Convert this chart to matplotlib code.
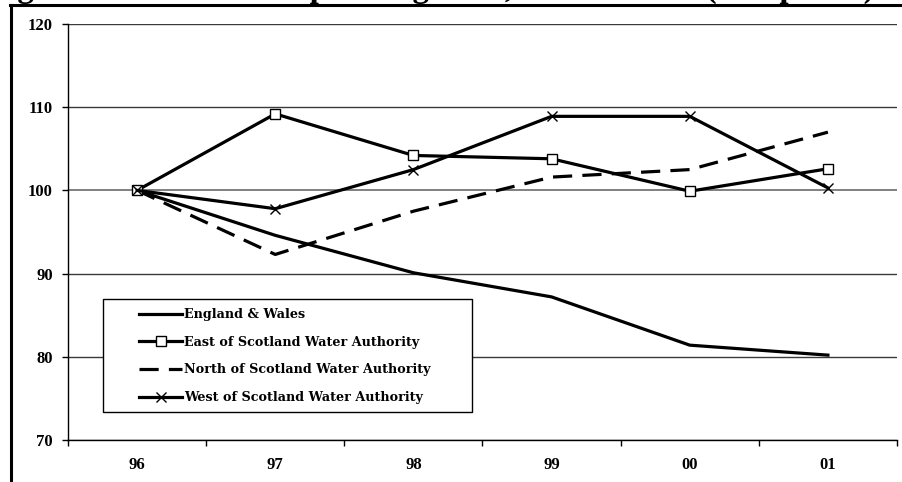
import matplotlib
matplotlib.use("Agg")
import matplotlib.pyplot as plt
from matplotlib.lines import Line2D
from matplotlib.patches import Rectangle

# Index values (1996 = 100)
years = ["96", "97", "98", "99", "00", "01"]
england_wales = [100, 94.6, 90.1, 87.2, 81.4, 80.2]
east_scotland = [100, 109.2, 104.2, 103.8, 99.9, 102.6]
north_scotland = [100, 92.3, 97.5, 101.6, 102.5, 107.0]
west_scotland = [100, 97.8, 102.5, 108.9, 108.9, 100.3]

series_labels = [
    "England & Wales",
    "East of Scotland Water Authority",
    "North of Scotland Water Authority",
    "West of Scotland Water Authority",
]
y_ticks = [70, 80, 90, 100, 110, 120]
title = "Figure 2: Total water operating costs, 1996 to 2001 (real prices)"

W, H = 902, 482
AX_L, AX_R, AX_T, AX_B = 68, 897, 24, 440
fig = plt.figure(figsize=(W / 100, H / 100), dpi=100)
ax = fig.add_axes([AX_L / W, (H - AX_B) / H, (AX_R - AX_L) / W, (AX_B - AX_T) / H])


def px_to_axes(px, py):
    return (px - AX_L) / (AX_R - AX_L), (AX_B - py) / (AX_B - AX_T)


serif = "Liberation Serif"
x = list(range(len(years)))
lw = 2.3

ax.plot(x, england_wales, color="black", lw=lw, label=series_labels[0], zorder=3)
ax.plot(x, east_scotland, color="black", lw=lw, marker="s", markersize=6.5,
        markerfacecolor="white", markeredgecolor="black", markeredgewidth=1.0,
        label=series_labels[1], zorder=4)
ax.plot(x, north_scotland, color="black", lw=lw, dashes=(6, 3.2),
        label=series_labels[2], zorder=3)
ax.plot(x, west_scotland, color="black", lw=lw, marker="x", markersize=7.5,
        markeredgecolor="black", markeredgewidth=1.0,
        label=series_labels[3], zorder=4)

ax.set_xlim(-0.5, len(years) - 0.5)
ax.set_ylim(70, 120)

# gridlines
ax.set_yticks(y_ticks)
ax.yaxis.grid(True, color="#3a3a3a", lw=1.0)
ax.set_axisbelow(True)
for val, gl in zip(y_ticks, ax.get_ygridlines()):
    if val == 100:
        gl.set_color("#808080")
        gl.set_linewidth(1.4)

# category labels centred, ticks on category boundaries
ax.set_xticks(x)
ax.set_xticklabels(years)
ax.set_xticks([i - 0.5 for i in range(len(years) + 1)], minor=True)
ax.tick_params(axis="x", which="major", length=0, pad=12)
ax.tick_params(axis="x", which="minor", length=4, width=1, direction="out", color="black")
ax.tick_params(axis="y", length=4, width=1, direction="out", color="black", pad=7)

for lab in ax.get_xticklabels() + ax.get_yticklabels():
    lab.set_fontfamily(serif)
    lab.set_fontweight("bold")
    lab.set_fontsize(12)

for side in ("top", "right"):
    ax.spines[side].set_visible(False)
for side in ("left", "bottom"):
    ax.spines[side].set_color("black")
    ax.spines[side].set_linewidth(1.0)

# legend box drawn separately, entries placed inside it
bx0, by0 = px_to_axes(103, 412)
bx1, by1 = px_to_axes(472, 299)
ax.add_patch(Rectangle((bx0, by0), bx1 - bx0, by1 - by0, transform=ax.transAxes,
                       facecolor="white", edgecolor="black", lw=1.0, zorder=5))
lx, ly = px_to_axes(139, 308)
leg = ax.legend(loc="upper left", bbox_to_anchor=(lx, ly), frameon=False,
                handlelength=3.4, handletextpad=0.1, labelspacing=1.15,
                borderpad=0, borderaxespad=0,
                prop={"family": "DejaVu Serif", "weight": "bold", "size": 9.2})
leg.set_zorder(6)

# outer frame (left and top edges)
fig.add_artist(Line2D([11 / W, 11 / W], [0, (H - 5) / H], color="black", lw=2.2,
                      transform=fig.transFigure))
fig.add_artist(Line2D([10 / W, 1], [(H - 5) / H, (H - 5) / H], color="black", lw=2.2,
                      transform=fig.transFigure))

# title sits above the frame, only its lower part falls inside the canvas
fig.text(-12 / W, 1 + 3 / H, title, fontfamily=serif, fontweight="bold",
         fontsize=23.8, ha="left", va="baseline")

fig.savefig("out.png", dpi=100)
